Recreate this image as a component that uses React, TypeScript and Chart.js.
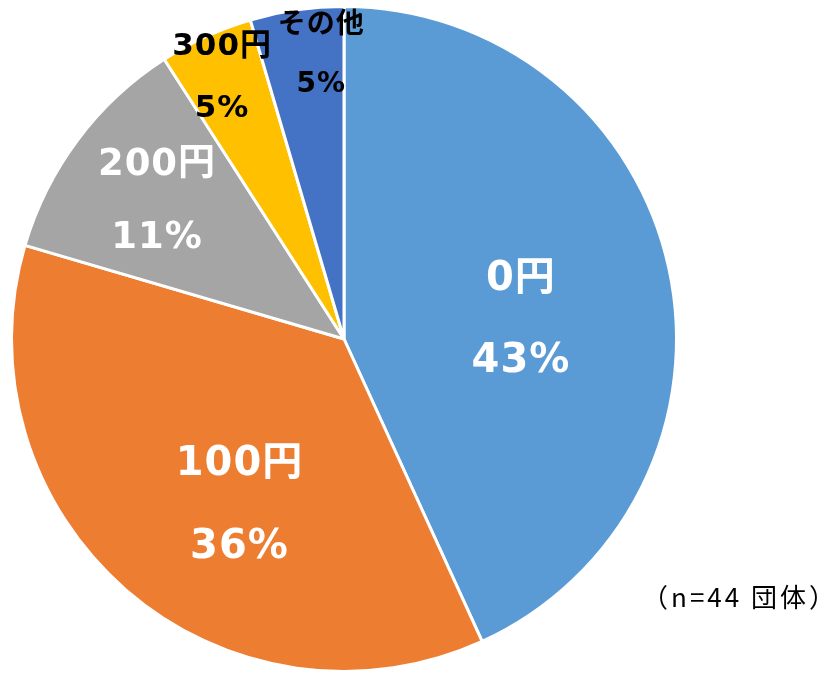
import React, { useEffect, useRef } from "react";
import { Chart, registerables } from "chart.js";

Chart.register(...registerables);

const categories = ["0円", "100円", "200円", "300円", "その他"];
const counts = [19, 16, 5, 2, 2];
const colors = ["#5B9BD5", "#ED7D31", "#A5A5A5", "#FFC000", "#4472C4"];
const noteText = "（n=44 団体）";

// label placement/style (not data)
const labelRadius = [0.535, 0.593, 0.698, 0.866, 0.855];
const labelAngleShift = [6.4, -8.9, -0.5, -0.5, 3.6];
const labelFont = [40, 40, 37, 31, 28];
const labelGap = [82, 83, 73, 62, 59];
const labelColor = ["#FFFFFF", "#FFFFFF", "#FFFFFF", "#000000", "#000000"];

const labelPlugin = {
  id: "sliceLabels",
  afterDatasetsDraw(chart: any) {
    const ctx = chart.ctx;
    const meta = chart.getDatasetMeta(0);
    const total = counts.reduce((a, b) => a + b, 0);
    ctx.save();
    ctx.textAlign = "center";
    ctx.textBaseline = "middle";
    meta.data.forEach((arc: any, i: number) => {
      const { x, y, startAngle, endAngle, outerRadius } = arc.getProps(
        ["x", "y", "startAngle", "endAngle", "outerRadius"],
        true
      );
      const mid = (startAngle + endAngle) / 2 + (labelAngleShift[i] * Math.PI) / 180;
      const r = outerRadius * labelRadius[i];
      const cx = x + Math.cos(mid) * r;
      const cy = y + Math.sin(mid) * r;
      const pct = Math.round((counts[i] / total) * 100) + "%";
      ctx.fillStyle = labelColor[i];
      ctx.font = `bold ${labelFont[i]}px "DejaVu Sans", "Noto Sans CJK JP", sans-serif`;
      (ctx as any).letterSpacing = "1px";
      ctx.fillText(categories[i], cx, cy - labelGap[i] / 2);
      ctx.fillText(pct, cx, cy + labelGap[i] / 2);
    });
    ctx.fillStyle = "#000000";
    ctx.textAlign = "right";
    ctx.font = `26px "Noto Sans CJK JP", sans-serif`;
    (ctx as any).letterSpacing = "3px";
    ctx.fillText(noteText, 838, 597);
    ctx.restore();
  },
};

export default function App() {
  const ref = useRef<HTMLCanvasElement | null>(null);
  useEffect(() => {
    document.body.style.margin = "0";
    const chart = new Chart(ref.current!, {
      type: "pie",
      data: {
        labels: categories,
        datasets: [
          {
            data: counts,
            backgroundColor: colors,
            borderColor: "#FFFFFF",
            borderWidth: 3,
          },
        ],
      },
      options: {
        animation: false,
        responsive: false,
        layout: { padding: { left: 10, right: 150, top: 5, bottom: 0 } },
        plugins: {
          legend: { display: false },
          tooltip: { enabled: false },
        },
      },
      plugins: [labelPlugin],
    });
    return () => chart.destroy();
  }, []);
  return (
    <div style={{ width: 828, height: 673 }}>
      <canvas ref={ref} width={828} height={673} style={{ display: "block" }} />
    </div>
  );
}
